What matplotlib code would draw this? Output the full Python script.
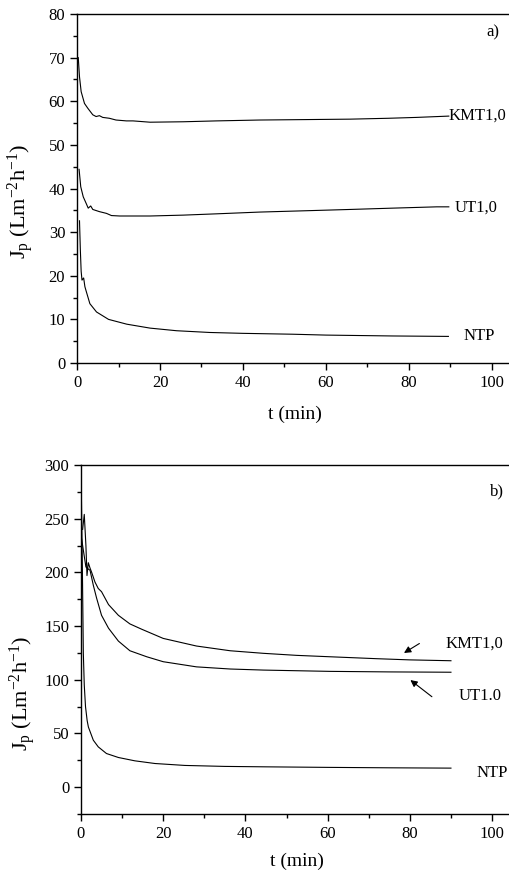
import matplotlib
matplotlib.use('Agg')
import matplotlib.pyplot as plt
from matplotlib.ticker import MultipleLocator

plt.rcParams['font.family'] = 'Liberation Serif'
plt.rcParams['mathtext.fontset'] = 'custom'
plt.rcParams['mathtext.rm'] = 'Liberation Serif'
plt.rcParams['mathtext.it'] = 'Liberation Serif:italic'

# panel a) permeate flux vs time
kmt_a_t = [0.3, 0.6, 1.0, 1.8, 2.6, 3.8, 4.6, 5.4, 6.2, 7.8, 9.4, 11.9, 13.5, 17.6, 25.6, 33.6, 44, 55, 65.8, 75, 81.8, 89.6]
kmt_a = [70.0, 65.6, 62.2, 59.5, 58.4, 56.9, 56.5, 56.7, 56.3, 56.1, 55.7, 55.5, 55.5, 55.2, 55.3, 55.5, 55.7, 55.8, 55.9, 56.1, 56.3, 56.6]
ut_a_t = [0.5, 0.9, 1.5, 2.2, 2.7, 3.3, 3.8, 5.4, 7.1, 8.3, 10.3, 17.6, 25.6, 33.7, 44, 55, 65.8, 76, 86.7, 89.6]
ut_a = [44.4, 40.4, 38.1, 36.6, 35.5, 36.0, 35.2, 34.7, 34.3, 33.8, 33.7, 33.7, 33.9, 34.2, 34.6, 34.9, 35.2, 35.5, 35.8, 35.8]
ntp_a_t = [0.6, 0.8, 1.0, 1.2, 1.6, 1.9, 2.2, 3.1, 4.7, 7.6, 12, 17.6, 24, 32, 40, 52, 60, 76, 89.5]
ntp_a = [32.6, 26.0, 21.0, 19.0, 19.5, 17.5, 16.5, 13.6, 11.7, 10.0, 8.9, 8.0, 7.4, 7.0, 6.8, 6.6, 6.4, 6.2, 6.1]

# panel b)
kmt_b_t = [0.4, 0.8, 1.2, 1.46, 1.78, 2.2, 2.6, 3.4, 4.2, 5.0, 6.7, 9.1, 11.9, 14.8, 20, 28.1, 36.3, 44.4, 52.5, 60.6, 72, 80, 90]
kmt_b = [240, 254, 225, 197, 209, 204, 200, 191, 185, 182, 170, 160, 152, 147, 138.5, 131.4, 127, 124.6, 122.7, 121.4, 119.6, 118.5, 117.7]
ut_b_t = [0.16, 0.8, 1.2, 1.8, 2.2, 3.0, 3.8, 5.0, 6.7, 9.1, 11.9, 16, 20, 28.1, 36.3, 44.4, 52.5, 60.6, 75, 90]
ut_b = [231, 215, 205, 203, 202, 188, 176, 160, 148, 136, 127, 121.4, 116.8, 112, 110, 109, 108.4, 107.8, 107.3, 107]
ntp_b_t = [0.1, 0.35, 0.57, 0.8, 1.1, 1.5, 1.8, 3.0, 4.2, 6.2, 9.1, 13.1, 18, 25.3, 35, 45, 60, 75, 90]
ntp_b = [271, 200, 125, 95, 75, 62, 56, 43.7, 37.5, 31.3, 27.6, 24.5, 22, 20.2, 19.3, 18.9, 18.4, 18.0, 17.7]

ylab = r'J$_\mathregular{p}$ (Lm$^\mathregular{-2}$h$^\mathregular{-1}$)'

fig = plt.figure(figsize=(5.09, 8.76), dpi=100)
ax1 = fig.add_axes([0.1513, 0.5856, 0.856, 0.3984])
ax2 = fig.add_axes([0.1591, 0.0708, 0.848, 0.3984])

def style(ax, pad):
    ax.set_xlim(0, 105)
    ax.xaxis.set_major_locator(MultipleLocator(20))
    ax.xaxis.set_minor_locator(MultipleLocator(10))
    ax.tick_params(which='major', direction='out', length=5, width=1, labelsize=12, top=False, right=False)
    ax.tick_params(which='minor', direction='out', length=3, width=1)
    for s in ax.spines.values():
        s.set_linewidth(1.0)
    ax.set_xlabel('t (min)', fontsize=14, labelpad=pad)

ax1.plot(kmt_a_t, kmt_a, color='black', linewidth=0.8)
ax1.plot(ut_a_t, ut_a, color='black', linewidth=0.8)
ax1.plot(ntp_a_t, ntp_a, color='black', linewidth=0.8)
style(ax1, 11)
ax1.set_ylim(0, 80)
ax1.yaxis.set_major_locator(MultipleLocator(10))
ax1.yaxis.set_minor_locator(MultipleLocator(5))
ax1.set_ylabel(ylab, fontsize=16)
ax1.yaxis.set_label_coords(-0.094, 0.464)
ax1.text(89.5, 56.6, 'KMT1,0', fontsize=12, va='center', ha='left')
ax1.text(91.1, 35.7, 'UT1,0', fontsize=12, va='center', ha='left')
ax1.text(93.1, 6.2, 'NTP', fontsize=12, va='center', ha='left')
ax1.text(101.9, 75.9, 'a)', fontsize=12, va='center', ha='right')

ax2.plot(kmt_b_t, kmt_b, color='black', linewidth=0.8)
ax2.plot(ut_b_t, ut_b, color='black', linewidth=0.8)
ax2.plot(ntp_b_t, ntp_b, color='black', linewidth=0.8)
style(ax2, 8)
ax2.set_ylim(-25, 300)
ax2.yaxis.set_major_locator(MultipleLocator(50))
ax2.yaxis.set_minor_locator(MultipleLocator(25))
ax2.set_ylabel(ylab, fontsize=16)
ax2.yaxis.set_label_coords(-0.1, 0.345)
ax2.text(88.6, 133.5, 'KMT1,0', fontsize=12, va='center', ha='left')
ax2.text(91.8, 85, 'UT1.0', fontsize=12, va='center', ha='left')
ax2.text(96.1, 13.3, 'NTP', fontsize=12, va='center', ha='left')
ax2.text(102.8, 275, 'b)', fontsize=12, va='center', ha='right')
ax2.annotate('', xy=(78.0, 123.6), xytext=(82.9, 135.1),
             arrowprops=dict(arrowstyle='-|>', color='black', lw=0.8, mutation_scale=10))
ax2.annotate('', xy=(79.6, 101.3), xytext=(85.9, 82.6),
             arrowprops=dict(arrowstyle='-|>', color='black', lw=0.8, mutation_scale=10))

fig.savefig('out.png', dpi=100)
